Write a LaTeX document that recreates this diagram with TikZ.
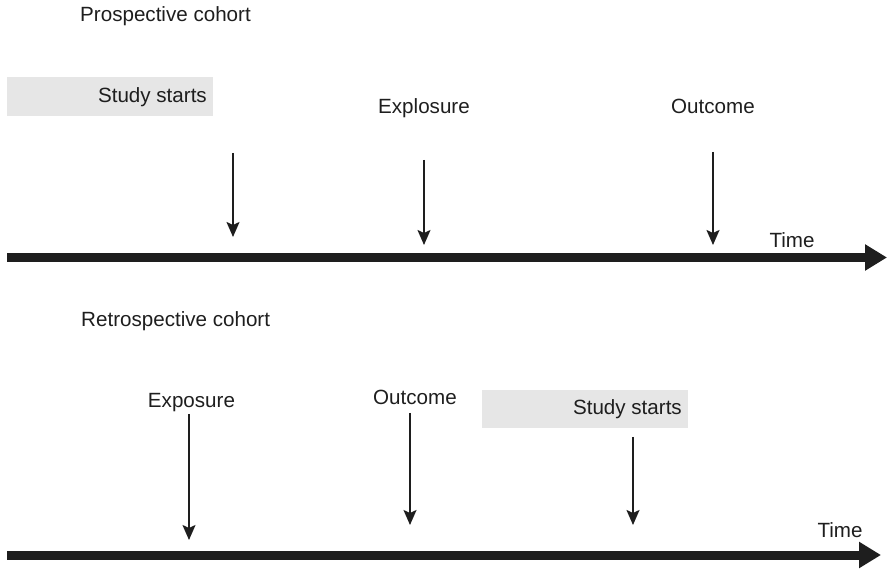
\documentclass[tikz,border=0pt]{standalone}
\usepackage{fontspec}
\setmainfont{Liberation Sans}
\usetikzlibrary{arrows.meta}
\definecolor{txt}{HTML}{1E1E1E}
\definecolor{boxfill}{HTML}{E6E6E6}
\tikzset{
  lbl/.style={text=txt, inner sep=0pt, font=\fontsize{20.6}{24}\selectfont},
  evarrow/.style={draw=txt, line width=1.8pt, -{Stealth[width=13pt,length=15pt,inset=3pt]}},
  timeaxis/.style={draw=txt, line width=9pt, -{Triangle[width=25pt,length=22pt]}},
  startbox/.style={fill=boxfill, draw=none}
}
\begin{document}
\begin{tikzpicture}[x=1pt,y=-1pt]
\useasboundingbox (0,0) rectangle (887,569);
% ---- Prospective ----
\node[lbl, anchor=base west] (ptitle) at (80,22) {Prospective cohort};
\fill[startbox] (7,77) rectangle (213,116);
\node[lbl, anchor=base east] (pstart) at (207,103) {Study starts};
\node[lbl, anchor=base] (pexp) at (424,114) {Explosure};
\node[lbl, anchor=base] (pout) at (713,114) {Outcome};
\node[lbl, anchor=base] (ptime) at (792,248) {Time};
\coordinate (a1s) at (233,153); \coordinate (a1e) at (233,237);
\coordinate (a2s) at (424,160); \coordinate (a2e) at (424,245);
\coordinate (a3s) at (713,152); \coordinate (a3e) at (713,245);
\draw[evarrow] (a1s) -- (a1e);
\draw[evarrow] (a2s) -- (a2e);
\draw[evarrow] (a3s) -- (a3e);
\coordinate (pax0) at (7,257.5); \coordinate (pax1) at (887,257.5);
\draw[timeaxis] (pax0) -- (pax1);
% ---- Retrospective ----
\node[lbl, anchor=base west] (rtitle) at (81,327) {Retrospective cohort};
\node[lbl, anchor=base] (rexp) at (191.5,408) {Exposure};
\node[lbl, anchor=base] (rout) at (415,405) {Outcome};
\fill[startbox] (482,390) rectangle (688,428);
\node[lbl, anchor=base east] (rstart) at (682,415) {Study starts};
\node[lbl, anchor=base] (rtime) at (840,537) {Time};
\coordinate (b1s) at (189,414); \coordinate (b1e) at (189,540);
\coordinate (b2s) at (410,413); \coordinate (b2e) at (410,525);
\coordinate (b3s) at (633,437); \coordinate (b3e) at (633,525);
\draw[evarrow] (b1s) -- (b1e);
\draw[evarrow] (b2s) -- (b2e);
\draw[evarrow] (b3s) -- (b3e);
\coordinate (rax0) at (7,555); \coordinate (rax1) at (881,555);
\draw[timeaxis] (rax0) -- (rax1);
\end{tikzpicture}
\end{document}
